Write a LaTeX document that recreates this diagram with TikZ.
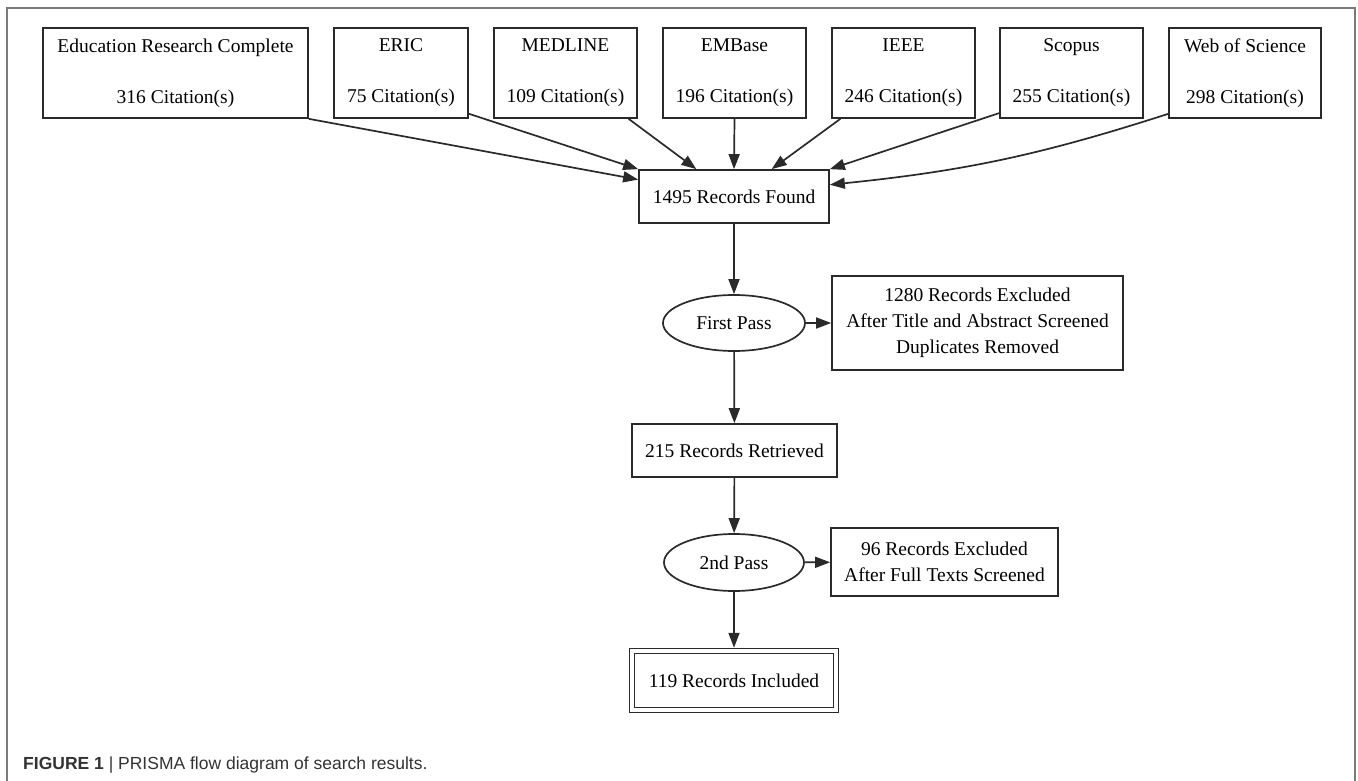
\documentclass[tikz,border=0pt]{standalone}
\usepackage{fontspec}
\setmainfont{Liberation Serif}
\newfontfamily\capfont{Liberation Sans}
\usetikzlibrary{arrows.meta,shapes.geometric}
\definecolor{lineg}{HTML}{2A2A2A}
\definecolor{frameg}{HTML}{7A7A7A}
\definecolor{capg}{HTML}{333333}
\begin{document}
\begin{tikzpicture}
                [x=1pt, y=-1pt,
        src/.style={rectangle, draw=lineg, line width=1.7pt, minimum height=90pt, inner sep=0pt, align=center, font=\fontsize{19.5}{25.5}\selectfont},
        stage/.style={rectangle, draw=lineg, line width=1.7pt, minimum height=53pt, inner sep=0pt, align=center, font=\fontsize{19.5}{26}\selectfont},
        pass/.style={ellipse, draw=lineg, line width=1.7pt, inner sep=0pt, font=\fontsize{19.5}{26}\selectfont},
        edge/.style={draw=lineg, line width=1.7pt, -{Triangle[length=15pt, width=11pt]}}]
                \useasboundingbox (0,0) rectangle (1358,781);
                % frame and caption
                \draw[frameg, line width=2pt] (7,781) -- (7,8) -- (1355,8) -- (1355,781);
                \node[anchor=base west, text=capg, font=\capfont\fontsize{17.5}{22}\selectfont, inner sep=0pt] (CAP) at (23,769) {\textbf{FIGURE 1} | PRISMA flow diagram of search results.};

                % databases
                \node[src, minimum width=265pt] (ERC) at (175.5,73) {Education Research Complete\\[25.5pt]316 Citation(s)};
                \node[src, minimum width=134pt] (ERIC) at (401,73) {ERIC\\[25.5pt]75 Citation(s)};
                \node[src, minimum width=143pt] (MED) at (565.5,73) {MEDLINE\\[25.5pt]109 Citation(s)};
                \node[src, minimum width=143pt] (EMB) at (734.5,73) {EMBase\\[25.5pt]196 Citation(s)};
                \node[src, minimum width=143pt] (IEEE) at (903.5,73) {IEEE\\[25.5pt]246 Citation(s)};
                \node[src, minimum width=143pt] (SCO) at (1071.5,73) {Scopus\\[25.5pt]255 Citation(s)};
                \node[src, minimum width=152pt] (WOS) at (1245,73) {Web of Science\\[25.5pt]298 Citation(s)};

                % flow
                \node[stage, minimum width=190pt] (F) at (734,196.5) {1495 Records Found};
                \node[pass, minimum width=142pt, minimum height=56pt] (P1) at (734,323) {First Pass};
                \node[stage, minimum width=291pt, minimum height=94pt] (X1) at (977.5,323) {1280 Records Excluded\\After Title and Abstract Screened\\Duplicates Removed};
                \node[stage, minimum width=205pt] (R) at (734.5,450.5) {215 Records Retrieved};
                \node[pass, minimum width=140pt, minimum height=57pt] (P2) at (734,562.5) {2nd Pass};
                \node[stage, minimum width=227pt, minimum height=68pt] (X2) at (944.5,562) {96 Records Excluded\\After Full Texts Screened};
                \node[stage, minimum width=204pt, minimum height=59pt, line width=1.3pt, double, double distance=3.2pt] (INC) at (734,680.5) {119 Records Included};

                \draw[edge] (ERC.south east) -- (F.170);
                \draw[edge] (ERIC.-31) -- (F.north west);
                \draw[edge] (MED.-36) -- (F.144);
                \draw[edge] (EMB.south) -- (F.north);
                \draw[edge] (IEEE.-144) -- (F.36);
                \draw[edge] (SCO.-151) -- (F.north east);
                \draw[edge] (WOS.-152) to[bend left=6] (F.7);

                \draw[edge] (F) -- (P1);
                \draw[edge] (P1) -- (X1);
                \draw[edge] (P1) -- (R);
                \draw[edge] (R) -- (P2);
                \draw[edge] (P2) -- (X2);
                \draw[edge, shorten >=2.6pt] (P2) -- (INC);
            \end{tikzpicture}
\end{document}
